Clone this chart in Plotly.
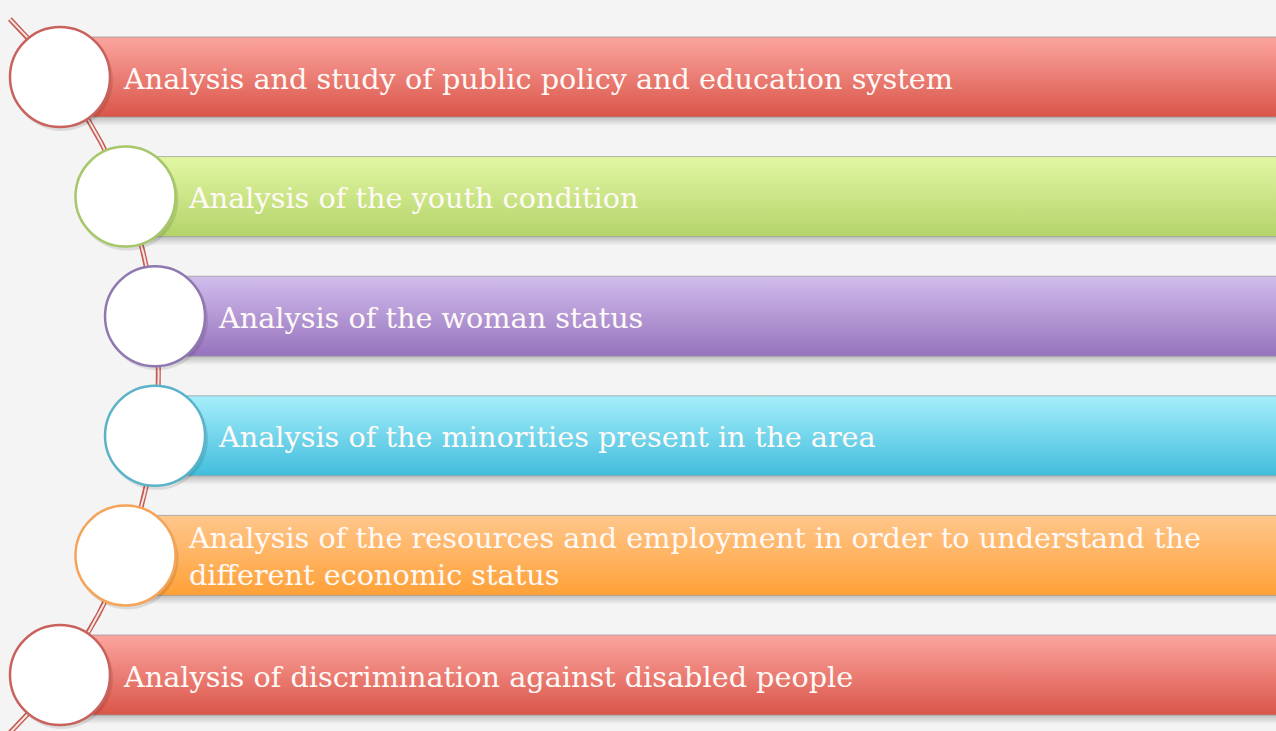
import numpy as np
import plotly.graph_objects as go

# ---- data ----
labels = [
    "Analysis and study of public policy and education system",
    "Analysis of the youth condition",
    "Analysis of the woman status",
    "Analysis of the minorities present in the area",
    "Analysis of the resources and employment in order to understand the<br>different economic status",
    "Analysis of discrimination against disabled people",
]
top_colors = ["#fba59f", "#e2f7a4", "#d1bdec", "#a6eefb", "#ffc78c", "#fba59f"]
bottom_colors = ["#da5549", "#b4d36a", "#9673bd", "#41bddc", "#ffa037", "#da5549"]
ring_colors = ["#c9625c", "#a6c76a", "#8f78b0", "#5ab3c9", "#f4a55a", "#c9625c"]

W, H = 1276, 731
ROW0, STEP = 77, 119.6
BAR_H = 80
R_NODE = 50
ARC_CX, ARC_CY, ARC_R = -344, 376, 502.6

def arc_x(y):
    return ARC_CX + np.sqrt(ARC_R**2 - (y - ARC_CY) ** 2)

fig = go.Figure()

# arc (double line)
ys = np.linspace(19, 745, 300)
xs = arc_x(ys)
fig.add_trace(go.Scatter(x=xs, y=ys, mode="lines", line=dict(color="#c55a52", width=5),
                         hoverinfo="skip", showlegend=False))
fig.add_trace(go.Scatter(x=xs, y=ys, mode="lines", line=dict(color="#f6e6e2", width=2),
                         hoverinfo="skip", showlegend=False))

for i, lab in enumerate(labels):
    cy = ROW0 + i * STEP
    cx = float(arc_x(cy))
    top, bot = cy - BAR_H / 2, cy + BAR_H / 2
    x0, x1 = cx, W + 20
    # shadow under bar
    fig.add_trace(go.Scatter(
        x=[x0 + 10, x1, x1, x0 + 10, x0 + 10], y=[bot, bot, bot + 9, bot + 9, bot],
        mode="lines", line=dict(width=0), fill="toself",
        fillgradient=dict(type="vertical", start=bot, stop=bot + 9,
                          colorscale=[[0, "rgba(0,0,0,0.22)"], [1, "rgba(0,0,0,0)"]]),
        hoverinfo="skip", showlegend=False))
    # bar
    fig.add_trace(go.Scatter(
        x=[x0, x1, x1, x0, x0], y=[top, top, bot, bot, top],
        mode="lines", line=dict(width=1, color="rgba(150,150,150,0.7)"), fill="toself",
        fillgradient=dict(type="vertical", start=top, stop=bot,
                          colorscale=[[0, top_colors[i]], [1, bottom_colors[i]]]),
        hoverinfo="skip", showlegend=False))
    # node circle shadow + circle
    fig.add_shape(type="circle", x0=cx - R_NODE + 1, x1=cx + R_NODE + 3,
                  y0=cy - R_NODE + 2, y1=cy + R_NODE + 4,
                  fillcolor="rgba(0,0,0,0.10)", line=dict(width=0), layer="above")
    fig.add_shape(type="circle", x0=cx - R_NODE, x1=cx + R_NODE,
                  y0=cy - R_NODE, y1=cy + R_NODE,
                  fillcolor="white", line=dict(color=ring_colors[i], width=2.5), layer="above")
    fig.add_annotation(x=cx + 61, y=cy + 1.5, text=lab, showarrow=False, xanchor="left",
                       yanchor="middle", align="left",
                       font=dict(family="DejaVu Serif", size=28.7, color="#fffaf7"))

fig.update_xaxes(range=[0, W], visible=False, fixedrange=True)
fig.update_yaxes(range=[H, 0], visible=False, fixedrange=True)
fig.update_layout(width=W, height=H, margin=dict(l=0, r=0, t=0, b=0),
                  paper_bgcolor="#f4f4f4", plot_bgcolor="#f4f4f4", showlegend=False)
fig.write_html("out.html", config={"displayModeBar": False},
               post_script="document.body.style.margin='0';document.body.style.overflow='hidden';")
